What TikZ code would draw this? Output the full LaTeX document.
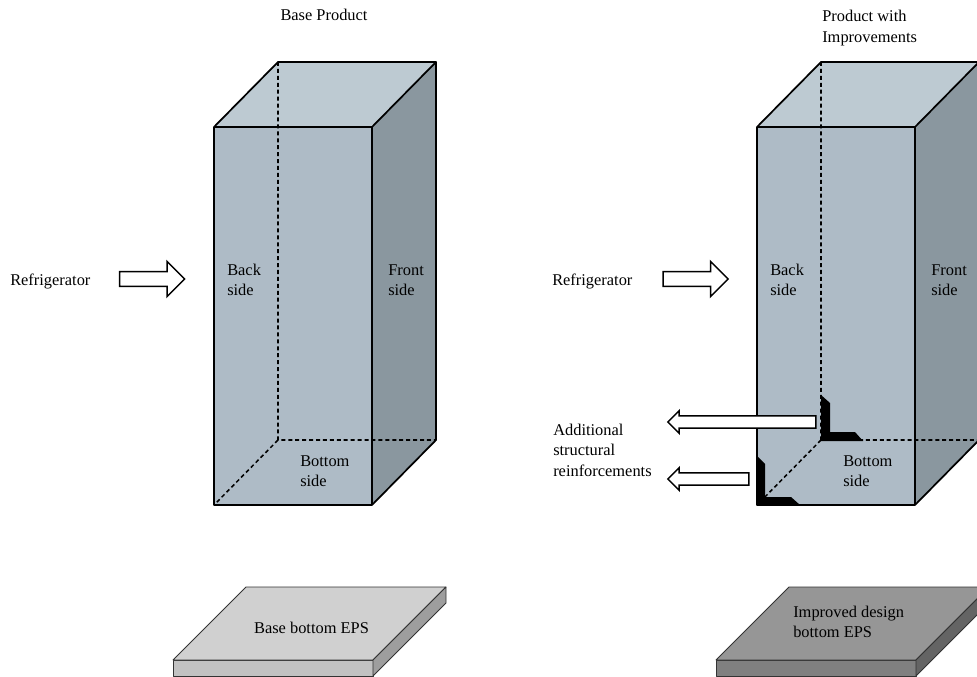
\documentclass[tikz,border=0pt]{standalone}
\usepackage{fontspec}
\setmainfont{Liberation Serif}
\usetikzlibrary{shapes.arrows}

\definecolor{boxFront}{RGB}{174,187,198}
\definecolor{boxTop}{RGB}{189,202,210}
\definecolor{boxSide}{RGB}{138,151,159}
\definecolor{baseTop}{RGB}{208,208,208}
\definecolor{baseFront}{RGB}{194,194,194}
\definecolor{baseSide}{RGB}{158,158,158}
\definecolor{newTop}{RGB}{150,150,150}
\definecolor{newFront}{RGB}{128,128,128}
\definecolor{newSide}{RGB}{100,100,100}

\tikzstyle{caption} = [align=left, inner sep = 0, font = \fontsize{12.3pt}{15.4pt}\selectfont]
\tikzstyle{edge} = [draw = black, line width = 1.3pt, line join = round]
\tikzstyle{hiddenEdge} = [draw = black, line width = 1.15pt, dash pattern = on 3pt off 2.2pt]
\tikzstyle{slabEdge} = [draw = black!80, line width = 0.6pt, line join = round]
\tikzstyle{refArrow} = [single arrow, draw = black, fill = white, line width = 1.1pt, inner sep = 5pt, single arrow head extend = 7.7pt, minimum height = 48.75pt]
\tikzstyle{reinfArrow} = [single arrow, draw = black, fill = white, line width = 1.1pt, inner sep = 4.1pt, single arrow head extend = 3.8pt, shape border rotate = 180]

\begin{document}
\begin{tikzpicture}[x = 0.75pt, y = -0.75pt]
\path[use as bounding box, clip] (0,0) rectangle (977,677);

% the two cabinets, back edges dashed
\foreach \x in {214, 757} {
  \fill[boxFront] (\x,127) rectangle ++(158,378);
  \fill[boxTop] (\x,127) -- ++(64,-65) -- ++(158,0) -- ++(-64,65) -- cycle;
  \fill[boxSide] (\x+158,127) -- ++(64,-65) -- ++(0,378) -- ++(-64,65) -- cycle;
  \draw[hiddenEdge] (\x+64,62) -- ++(0,378) -- ++(158,0) (\x+64,440) -- (\x,505);
  \draw[edge] (\x,127) rectangle ++(158,378)
    (\x,127) -- ++(64,-65) -- ++(158,0) -- ++(-64,65)
    (\x+222,62) -- ++(0,378) -- ++(-64,65);
}

% reinforcements
\fill[black] (821,395) -- (830,403) -- (830,432) -- (855,432) -- (863,441) -- (821,441) -- cycle;
\fill[black] (756,455) -- (765,464) -- (765,497) -- (791,497) -- (800,505) -- (756,505) -- cycle;

% bottom EPS slabs
\foreach \x/\t/\f/\s in {173/baseTop/baseFront/baseSide, 716/newTop/newFront/newSide} {
  \draw[slabEdge, fill = \f] (\x,660) rectangle ++(200,16);
  \draw[slabEdge, fill = \t] (\x,660) -- ++(73,-73) -- ++(200,0) -- ++(-73,73) -- cycle;
  \draw[slabEdge, fill = \s] (\x+200,660) -- ++(73,-73) -- ++(0,16) -- ++(-73,73) -- cycle;
}

\node (titleBase) [caption] at (324,15) {Base Product};
\node (titleNew) [caption, anchor = west] at (822,28) {Product with\\Improvements};

\node (fridgeL) [caption, anchor = west] at (10,281) {Refrigerator};
\node (fridgeR) [caption, anchor = west] at (552,281) {Refrigerator};
\node (refArrowL) [refArrow] at (148.5,279) {};
\node (refArrowR) [refArrow] at (692,279) {};

\node (backL) [caption, anchor = west] at (227,280) {Back\\side};
\node (frontL) [caption, anchor = west] at (388,280) {Front\\side};
\node (bottomL) [caption, anchor = west] at (300,471) {Bottom\\side};
\node (backR) [caption, anchor = west] at (770,280) {Back\\side};
\node (frontR) [caption, anchor = west] at (931,280) {Front\\side};
\node (bottomR) [caption, anchor = west] at (843,471) {Bottom\\side};

\node (reinfText) [caption, anchor = west] at (553,450) {Additional\\structural\\reinforcements};
\node (reinfArrowA) [reinfArrow, minimum height = 111pt] at (745,422) {};
\node (reinfArrowB) [reinfArrow, minimum height = 60.75pt] at (711.5,479) {};

\node (slabBase) [caption] at (311.5,628) {Base bottom EPS};
\node (slabNew) [caption, anchor = west] at (793,622) {Improved design\\bottom EPS};
\end{tikzpicture}
\end{document}
